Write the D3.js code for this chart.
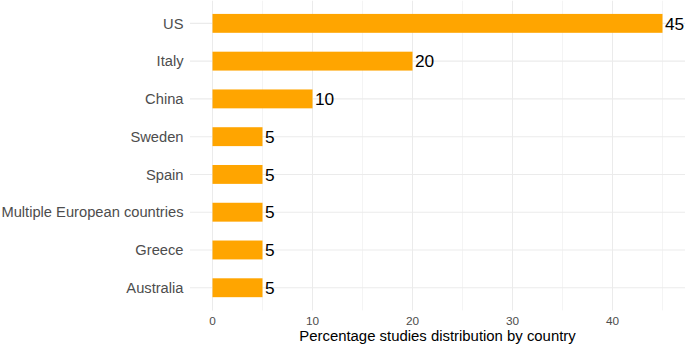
<!DOCTYPE html>
<html><head><meta charset="utf-8">
<script src="https://cdn.jsdelivr.net/npm/d3@7"></script>
<style>body{margin:0;background:#fff}svg{display:block;font-family:"Liberation Sans",Arial,Helvetica,sans-serif}</style>
</head><body>
<script>
const countries = ["US","Italy","China","Sweden","Spain","Multiple European countries","Greece","Australia"];
const percents = [45,20,10,5,5,5,5,5];
const xTicks = [0,10,20,30,40];
const xMinor = [5,15,25,35,45];
const xTitle = "Percentage studies distribution by country";

const W=685,H=345;
const svg=d3.select("body").append("svg").attr("width",W).attr("height",H);
const pL=190,pR=685,pT=0.7,pB=310.4;
const xmax=d3.max(percents);
const x=d3.scaleLinear().domain([-0.05*xmax,1.05*xmax]).range([pL,pR]);
const y=d3.scalePoint().domain(countries).range([pT,pB]).padding(0.6);
const bw = y.step()*0.5;
const cy = c=>y(c);

const g=svg.append("g");
g.selectAll("line.minor").data(xMinor).join("line")
 .attr("x1",d=>x(d)).attr("x2",d=>x(d)).attr("y1",pT).attr("y2",pB)
 .attr("stroke","#EBEBEB").attr("stroke-width",0.55);
g.selectAll("line.majx").data(xTicks).join("line")
 .attr("x1",d=>x(d)).attr("x2",d=>x(d)).attr("y1",pT).attr("y2",pB)
 .attr("stroke","#EBEBEB").attr("stroke-width",1.07);
g.selectAll("line.majy").data(countries).join("line")
 .attr("x1",pL).attr("x2",pR).attr("y1",d=>cy(d)).attr("y2",d=>cy(d))
 .attr("stroke","#EBEBEB").attr("stroke-width",1.07);

g.selectAll("rect.bar").data(countries).join("rect")
 .attr("x",x(0)).attr("y",d=>cy(d)-bw/2)
 .attr("width",(d,i)=>x(percents[i])-x(0)).attr("height",bw)
 .attr("fill","#FFA500");

g.selectAll("text.val").data(countries).join("text")
 .attr("x",(d,i)=>x(percents[i])+2.5).attr("y",d=>cy(d)).attr("dy","0.36em")
 .attr("font-size",17.3).attr("fill","#000").text((d,i)=>percents[i]);

g.selectAll("text.cat").data(countries).join("text")
 .attr("x",pL-6.5).attr("y",d=>cy(d)).attr("dy","0.36em").attr("text-anchor","end")
 .attr("font-size",14.7).attr("fill","#4D4D4D").text(d=>d);

g.selectAll("text.xt").data(xTicks).join("text")
 .attr("x",d=>x(d)).attr("y",325).attr("text-anchor","middle")
 .attr("font-size",11.8).attr("fill","#4D4D4D").text(d=>d);

svg.append("text").attr("x",(pL+pR)/2).attr("y",340.5).attr("text-anchor","middle")
 .attr("font-size",14.9).attr("fill","#000").text(xTitle);
</script>
</body></html>
